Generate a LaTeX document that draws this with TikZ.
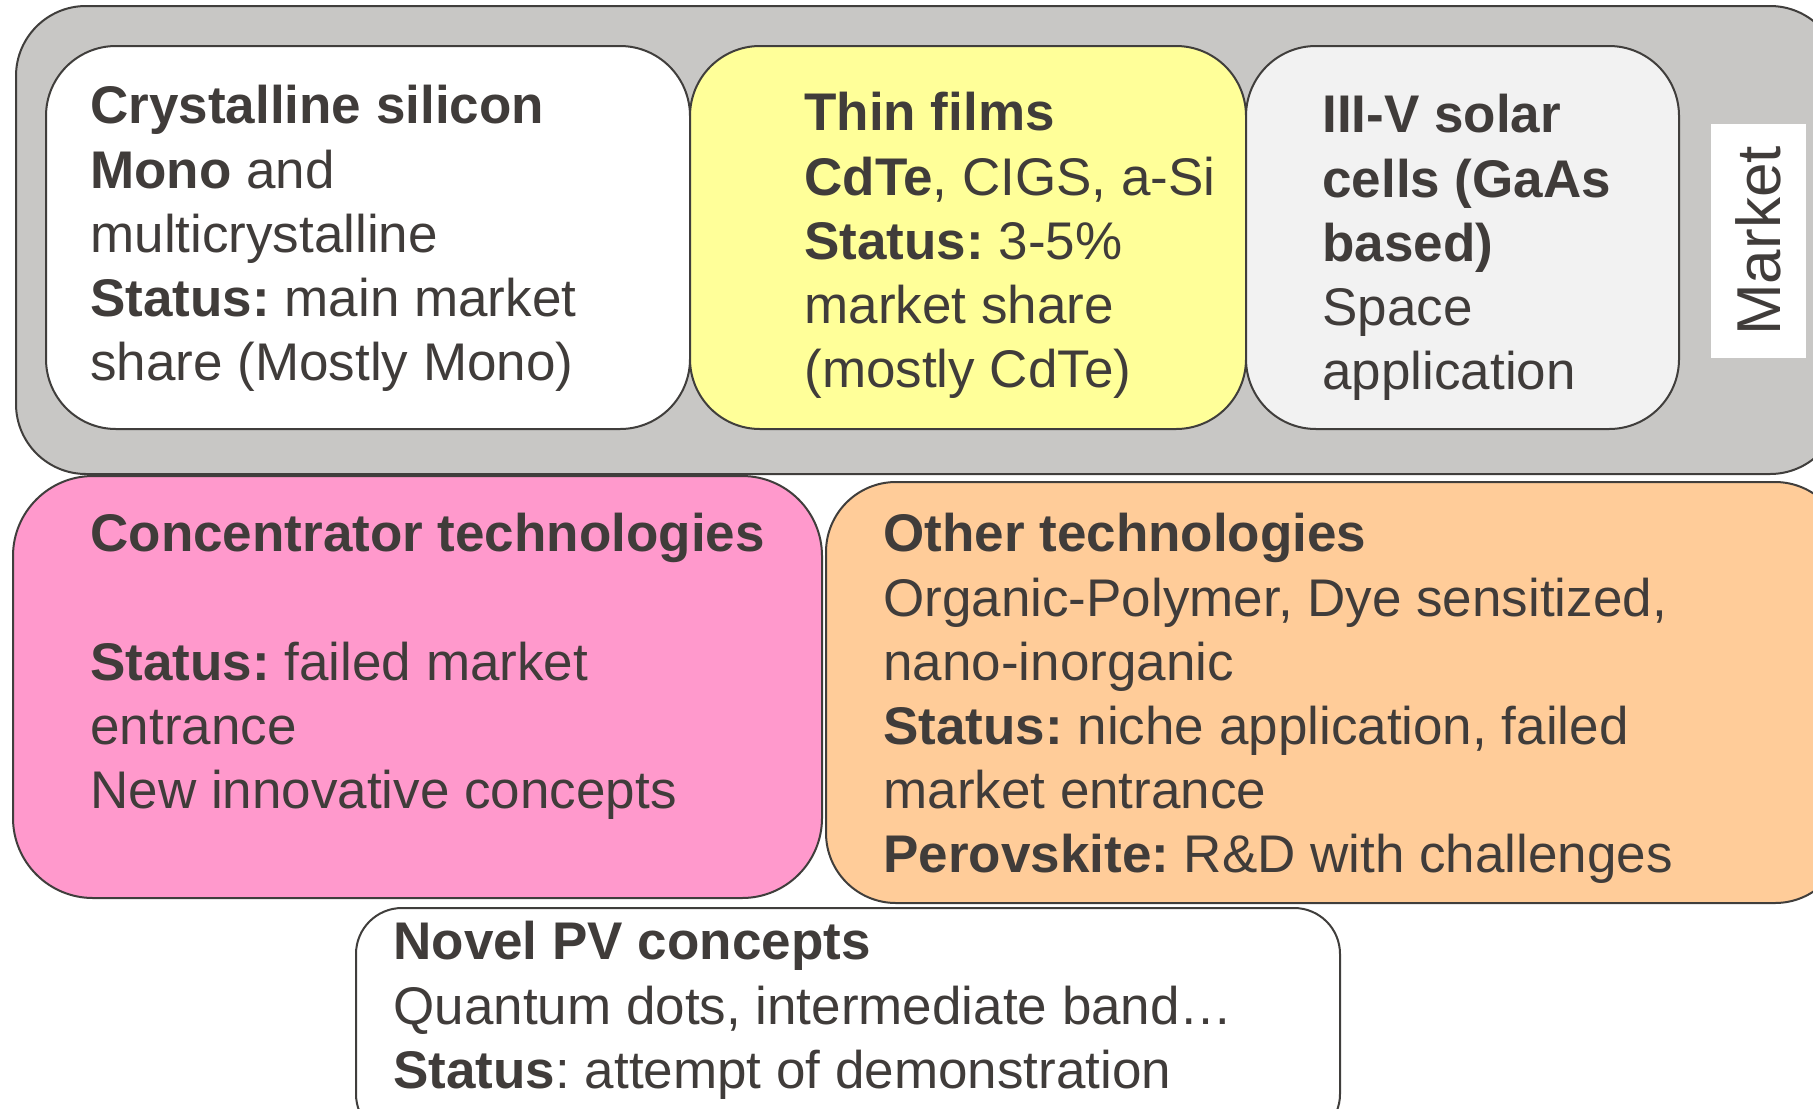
\documentclass[tikz,border=0pt]{standalone}
\usepackage{fontspec}
\setmainfont{Liberation Sans}
\definecolor{ink}{RGB}{64,60,58}
\definecolor{edge}{RGB}{64,62,60}
\definecolor{grayfill}{RGB}{200,199,197}
\definecolor{yellowfill}{RGB}{255,255,153}
\definecolor{lightfill}{RGB}{242,242,242}
\definecolor{pinkfill}{RGB}{255,153,204}
\definecolor{orangefill}{RGB}{255,204,153}
\begin{document}
\frenchspacing
\begin{tikzpicture}[x=0.5pt,y=-0.5pt,
  panel/.style={draw=edge, line width=1pt, rounded corners=35pt},
  body/.style={anchor=north west, inner sep=0pt, align=left, text=ink,
    font=\fontsize{26.5}{32.1}\selectfont\frenchspacing}]
\useasboundingbox (0,0) rectangle (1813,1108);
% market frame
\path[panel, fill=grayfill] (16,6) rectangle (1840,474);
\path[panel, fill=white] (46,46) rectangle (690,429);
\path[panel, fill=yellowfill] (690,46) rectangle (1246,429);
\path[panel, fill=lightfill] (1246,46) rectangle (1679,429);
\node[fill=white, rotate=90, inner sep=0pt, minimum width=117pt, minimum height=47.5pt,
  text=ink, font=\fontsize{31}{36}\selectfont] (market) at (1758.5,241) {Market};
% lower panels
\path[panel, rounded corners=40pt, fill=pinkfill] (13,476) rectangle (822,898);
\path[panel, fill=orangefill] (826,482) rectangle (1845,903);
\path[panel, rounded corners=23pt, fill=white] (356,908) rectangle (1340,1140);
% texts
\node[body] (csi) at (90,85) {\textbf{Crystalline silicon}\\ \textbf{Mono} and\\ multicrystalline\\ \textbf{Status:} main market\\ share (Mostly Mono)};
\node[body] (thin) at (804,92) {\textbf{Thin films}\\ \textbf{CdTe}, CIGS, a-Si\\ \textbf{Status:} 3-5\%\\ market share\\ (mostly CdTe)};
\node[body] (iiiv) at (1322,94) {\textbf{III-V solar}\\ \textbf{cells (GaAs}\\ \textbf{based)}\\ Space\\ application};
\node[body] (conc) at (90,513) {\textbf{Concentrator technologies}\\ \mbox{}\\ \textbf{Status:} failed market\\ entrance\\ New innovative concepts};
\node[body] (other) at (883,513) {\textbf{Other technologies}\\ Organic-Polymer, Dye sensitized,\\ nano-inorganic\\ \textbf{Status:} niche application, failed\\ market entrance\\ \textbf{Perovskite:} R\&D with challenges};
\node[body] (novel) at (393,921) {\textbf{Novel PV concepts}\\ Quantum dots, intermediate band…\\ \textbf{Status}: attempt of demonstration};
\end{tikzpicture}
\end{document}
